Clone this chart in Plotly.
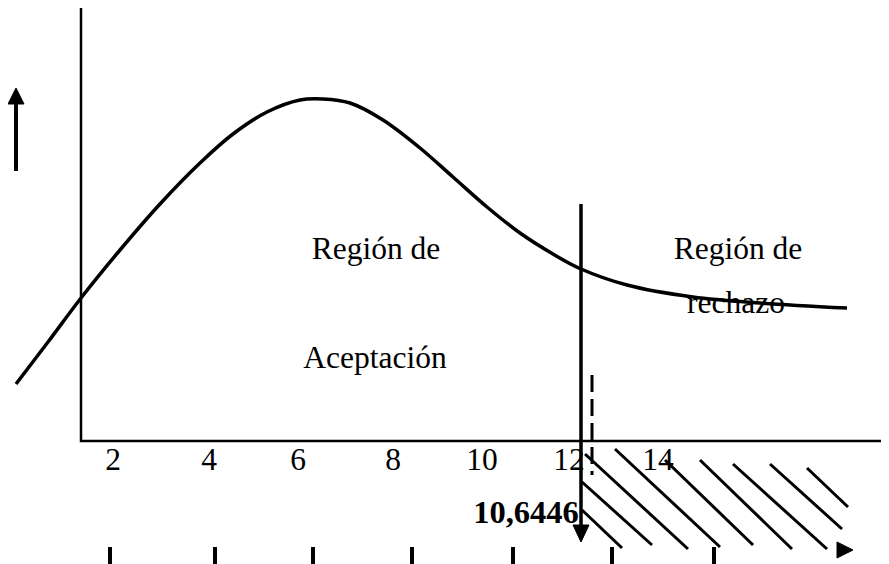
import plotly.graph_objects as go

# ---- Diagram data (frame coordinates: x to the right, y downward) ----
# Density curve
curve_x = [16, 48, 81, 120, 160, 200, 233, 267, 300, 323, 350, 383, 420, 453, 487, 520, 553, 581, 627, 693, 760, 847]
curve_y = [384, 342, 298, 250, 204, 163, 134, 112, 100, 99, 103, 120, 148, 177, 207, 233, 254, 269, 285, 297, 303, 308]

# Axis labels (numbers under the horizontal axis)
tick_labels = ["2", "4", "6", "8", "10", "12", "14"]
tick_label_x = [113, 209, 298, 393, 482, 569, 658]
tick_label_y = 462

# Lower scale tick marks
scale_tick_x = [110, 215, 313, 412, 513, 612, 714]
scale_tick_top = 547
scale_tick_bottom = 566

# Critical value
critical_label = "10,6446"
critical_x = 581
critical_top = 204
critical_bottom = 528

# Dashed marker
dashed_x = 592
dashed_top = 375
dashed_bottom = 475

# Rejection hatching segments
hatch_x0 = [582, 582, 585, 615, 665, 700, 733, 770, 807]
hatch_y0 = [510, 482, 454, 449, 460, 460, 464, 464, 468]
hatch_x1 = [622, 652, 688, 720, 753, 792, 827, 842, 848]
hatch_y1 = [548, 545, 549, 547, 545, 549, 549, 529, 507]

# Region texts
region_texts = ["Región de", "Aceptación", "Región de", "rechazo"]
region_x = [376, 375, 738, 736]
region_y = [251, 360, 251, 305]

# Axes
yaxis_x = 81
yaxis_top = 7
xaxis_y = 441
xaxis_right = 889

BLACK = "black"
SERIF = "Liberation Serif, Times New Roman, serif"

# page offset of the figure (browser default body margin)
OFF = 8

fig = go.Figure()

# Texts first so the curve is drawn over them
fig.add_trace(go.Scatter(
    x=region_x, y=region_y, mode="text", text=region_texts,
    textposition="middle center",
    textfont=dict(family=SERIF, size=31.5, color=BLACK), hoverinfo="skip"))
fig.add_trace(go.Scatter(
    x=tick_label_x, y=[tick_label_y] * len(tick_labels), mode="text", text=tick_labels,
    textposition="middle center",
    textfont=dict(family=SERIF, size=31.5, color=BLACK), hoverinfo="skip"))
fig.add_trace(go.Scatter(
    x=[526], y=[515], mode="text", text=["<b>" + critical_label + "</b>"],
    textposition="middle center",
    textfont=dict(family=SERIF, size=32.5, color=BLACK), hoverinfo="skip"))

# Axes lines
fig.add_trace(go.Scatter(
    x=[yaxis_x, yaxis_x, xaxis_right + 20], y=[yaxis_top, xaxis_y, xaxis_y],
    mode="lines", line=dict(color=BLACK, width=2.5), hoverinfo="skip"))

# Hatching
hx, hy = [], []
for a, b, c, d in zip(hatch_x0, hatch_y0, hatch_x1, hatch_y1):
    hx += [a, c, None]
    hy += [b, d, None]
fig.add_trace(go.Scatter(x=hx, y=hy, mode="lines",
                         line=dict(color=BLACK, width=3), hoverinfo="skip"))

# Dashed marker
fig.add_trace(go.Scatter(x=[dashed_x, dashed_x], y=[dashed_top, dashed_bottom], mode="lines",
                         line=dict(color=BLACK, width=3, dash="17px,7px"), hoverinfo="skip"))

# Critical vertical line with arrowhead
fig.add_trace(go.Scatter(x=[critical_x, critical_x], y=[critical_top, critical_bottom], mode="lines",
                         line=dict(color=BLACK, width=3.5), hoverinfo="skip"))
fig.add_trace(go.Scatter(x=[critical_x - 8, critical_x + 8, critical_x, critical_x - 8],
                         y=[525, 525, 542, 525], mode="lines", fill="toself",
                         fillcolor=BLACK, line=dict(color=BLACK, width=1), hoverinfo="skip"))

# Lower scale ticks
tx, ty = [], []
for x in scale_tick_x:
    tx += [x, x, None]
    ty += [scale_tick_top, scale_tick_bottom, None]
fig.add_trace(go.Scatter(x=tx, y=ty, mode="lines",
                         line=dict(color=BLACK, width=4), hoverinfo="skip"))

# Bottom-right arrowhead
fig.add_trace(go.Scatter(x=[837, 837, 853, 837], y=[542, 558, 550, 542], mode="lines",
                         fill="toself", fillcolor=BLACK, line=dict(color=BLACK, width=1),
                         hoverinfo="skip"))

# Left upward arrow
fig.add_trace(go.Scatter(x=[16, 16], y=[171, 102], mode="lines",
                         line=dict(color=BLACK, width=4), hoverinfo="skip"))
fig.add_trace(go.Scatter(x=[8, 24, 16, 8], y=[104, 104, 88, 104], mode="lines",
                         fill="toself", fillcolor=BLACK, line=dict(color=BLACK, width=1),
                         hoverinfo="skip"))

# Curve
fig.add_trace(go.Scatter(x=curve_x, y=curve_y, mode="lines",
                         line=dict(color=BLACK, width=3.5, shape="spline", smoothing=1.0),
                         hoverinfo="skip"))

fig.update_layout(
    width=889 - OFF, height=564 - OFF,
    margin=dict(l=0, r=0, t=0, b=0),
    paper_bgcolor="white", plot_bgcolor="white",
    showlegend=False,
    xaxis=dict(range=[OFF, 889], visible=False, fixedrange=True),
    yaxis=dict(range=[564, OFF], visible=False, fixedrange=True),
)

fig.write_html("out.html")
